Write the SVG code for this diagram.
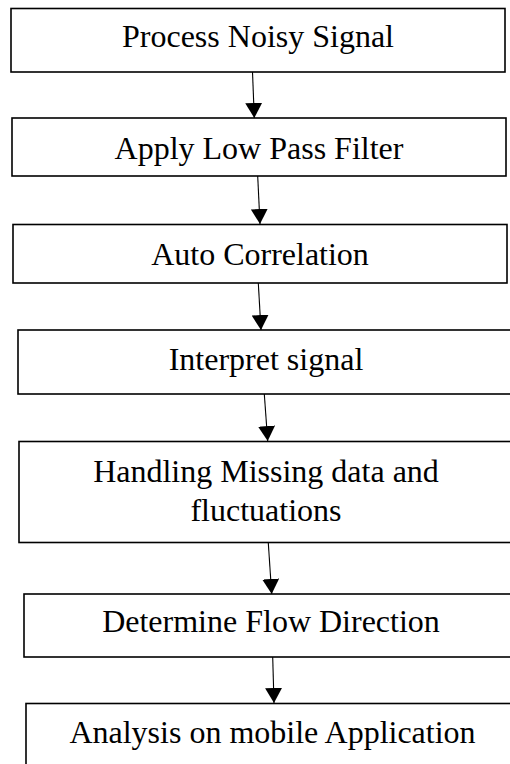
<svg xmlns="http://www.w3.org/2000/svg" width="510" height="764" viewBox="0 0 510 764">
<style>
.box{fill:#fff;stroke:#000;stroke-width:1.6}
.t{font-family:"Liberation Serif","Times New Roman",serif;font-size:32px;fill:#000;text-anchor:middle}
.c{stroke:#000;stroke-width:1.1;fill:none;marker-end:url(#ah)}
</style>
<defs>
<marker id="ah" markerUnits="userSpaceOnUse" markerWidth="15" markerHeight="17" refX="15" refY="8.5" orient="auto">
<path d="M0,0 L15,8.5 L0,17 z" fill="#000"/>
</marker>
</defs>
<rect width="510" height="764" fill="#fff"/>
<g id="n1"><rect class="box" x="11" y="8.5" width="494" height="63.5"/><text class="t" x="258" y="47">Process Noisy Signal</text></g>
<g id="n2"><rect class="box" x="12" y="118" width="494" height="58"/><text class="t" x="259" y="159">Apply Low Pass Filter</text></g>
<g id="n3"><rect class="box" x="13" y="224.5" width="494" height="58.5"/><text class="t" x="260" y="265">Auto Correlation</text></g>
<g id="n4"><rect class="box" x="18" y="330" width="496" height="64"/><text class="t" x="266" y="370">Interpret signal</text></g>
<g id="n5"><rect class="box" x="19" y="441.5" width="496" height="101"/><text class="t" x="266" y="481.5">Handling Missing data and</text><text class="t" x="266" y="521">fluctuations</text></g>
<g id="n6"><rect class="box" x="24" y="594" width="496" height="63"/><text class="t" x="271" y="632">Determine Flow Direction</text></g>
<g id="n7"><rect class="box" x="26" y="703.5" width="496" height="70"/><text class="t" x="272.5" y="743">Analysis on mobile Application</text></g>
<g id="connectors">
<line class="c" x1="252.5" y1="72" x2="254.3" y2="118"/>
<line class="c" x1="257.7" y1="176" x2="260" y2="224"/>
<line class="c" x1="258.3" y1="283" x2="261" y2="330"/>
<line class="c" x1="264.3" y1="394" x2="267.7" y2="441"/>
<line class="c" x1="268.3" y1="543" x2="271.7" y2="594"/>
<line class="c" x1="272.7" y1="657" x2="274" y2="703"/>
</g>
</svg>
